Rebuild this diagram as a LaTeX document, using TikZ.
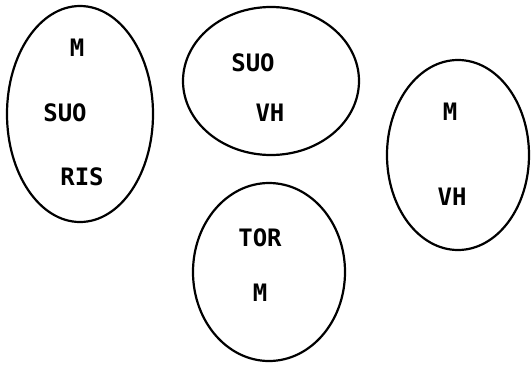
\documentclass[tikz,border=0pt]{standalone}
\usepackage{fontspec}
\newfontfamily\pixfont{DejaVu Sans Mono}
\usetikzlibrary{shapes.geometric}
\begin{document}
\begin{tikzpicture}[x=1pt,y=-1pt,
  blob/.style={draw=black,line width=2.2pt,ellipse,inner sep=0pt},
  lbl/.style={font=\pixfont\bfseries\fontsize{24}{24}\selectfont,inner sep=0pt,anchor=center}]
\useasboundingbox[fill=white] (0,0) rectangle (531,365);
\node[blob,minimum width=146pt,minimum height=216pt] (e1) at (80,114) {};
\node[blob,minimum width=176pt,minimum height=148pt] (e2) at (271,81) {};
\node[blob,minimum width=142pt,minimum height=190pt] (e3) at (458,155) {};
\node[blob,minimum width=152pt,minimum height=178pt] (e4) at (269,272) {};
\node[lbl] (t1) at (77,48) {M};
\node[lbl] (t2) at (65,113) {SUO};
\node[lbl] (t3) at (82,177) {RIS};
\node[lbl] (t4) at (253,63) {SUO};
\node[lbl] (t5) at (270,113) {VH};
\node[lbl] (t6) at (450,112) {M};
\node[lbl] (t7) at (452,197) {VH};
\node[lbl] (t8) at (260,238) {TOR};
\node[lbl] (t9) at (260,293) {M};
\end{tikzpicture}
\end{document}
